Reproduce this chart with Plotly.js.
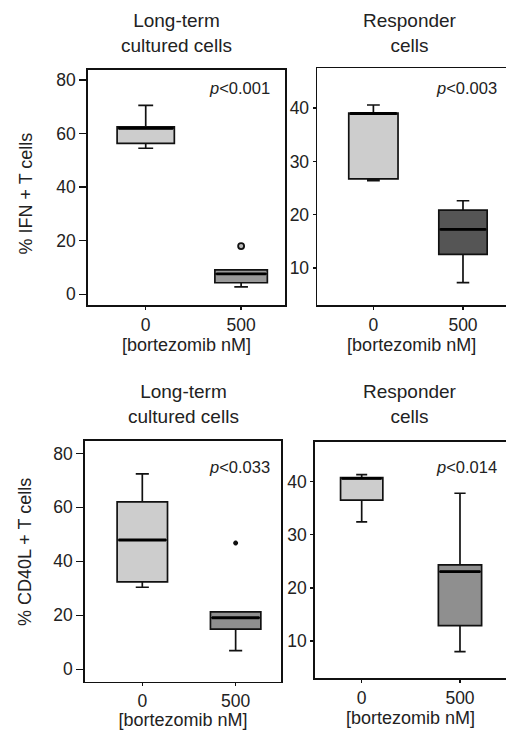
<!DOCTYPE html>
<html>
<head>
<meta charset="utf-8">
<script src="https://cdn.plot.ly/plotly-3.0.1.min.js"></script>
<style>html,body{margin:0;padding:0;background:#fff;}#chart{width:506px;height:730px;}</style>
</head>
<body>
<div id="chart"></div>
<script>
// ---- data ----
var doseLabels = ["0", "500"];
var panelTitles = ["Long-term<br>cultured cells", "Responder<br>cells", "Long-term<br>cultured cells", "Responder<br>cells"];
var pValues = ["<i>p</i><0.001", "<i>p</i><0.003", "<i>p</i><0.033", "<i>p</i><0.014"];
var yTitles = ["% IFN + T cells", "% CD40L + T cells"];
var xTitle = "[bortezomib nM]";

// box statistics per panel: [dose0, dose500]
var ifnLongLower  = [54.5, 2.8];
var ifnLongQ1     = [56.3, 4.3];
var ifnLongMedian = [61.9, 7.6];
var ifnLongQ3     = [62.5, 9.1];
var ifnLongUpper  = [70.5, 9.1];
var ifnLongOutlier = [null, 18];

var ifnRespLower  = [26.4, 7.2];
var ifnRespQ1     = [26.7, 12.5];
var ifnRespMedian = [39.0, 17.2];
var ifnRespQ3     = [39.1, 20.85];
var ifnRespUpper  = [40.6, 22.6];

var cdLongLower  = [30.4, 6.9];
var cdLongQ1     = [32.4, 14.9];
var cdLongMedian = [47.9, 19.1];
var cdLongQ3     = [62.0, 21.3];
var cdLongUpper  = [72.4, 21.3];
var cdLongOutlier = [null, 46.8];

var cdRespLower  = [32.4, 8.0];
var cdRespQ1     = [36.5, 12.9];
var cdRespMedian = [40.6, 23.05];
var cdRespQ3     = [40.75, 24.3];
var cdRespUpper  = [41.3, 37.8];

// ---- styles ----
var FONT = "'Liberation Sans', Arial, sans-serif";
var TXT = "#222222";
var panels = [
  {lower: ifnLongLower, q1: ifnLongQ1, med: ifnLongMedian, q3: ifnLongQ3, upper: ifnLongUpper, out: ifnLongOutlier,
   fills: ["#cdcdcd", "#999999"], widths: [0.6, 0.55], xr: [-0.605, 1.46], yr: [-4, 83.7], ticks: [0, 20, 40, 60, 80],
   dom: [[88, 285], [70, 305]], outSize: 6, outSym: "circle", outFill: "#bbbbbb", mirrorRight: true, standoff: 0},
  {lower: ifnRespLower, q1: ifnRespQ1, med: ifnRespMedian, q3: ifnRespQ3, upper: ifnRespUpper, out: [null, null],
   fills: ["#cdcdcd", "#555555"], widths: [0.55, 0.54], xr: [-0.626, 1.48], yr: [3, 47.5], ticks: [10, 20, 30, 40],
   dom: [[317.3, 506], [68.3, 305]], outSize: 0, outSym: "circle", outFill: "#111", mirrorRight: false, standoff: 0},
  {lower: cdLongLower, q1: cdLongQ1, med: cdLongMedian, q3: cdLongQ3, upper: cdLongUpper, out: cdLongOutlier,
   fills: ["#cdcdcd", "#8f8f8f"], widths: [0.54, 0.54], xr: [-0.614, 1.486], yr: [-4.6, 84.7], ticks: [0, 20, 40, 60, 80],
   dom: [[85, 281], [440.7, 681.7]], outSize: 4, outSym: "asterisk-open", outFill: "#111", mirrorRight: true, standoff: 10},
  {lower: cdRespLower, q1: cdRespQ1, med: cdRespMedian, q3: cdRespQ3, upper: cdRespUpper, out: [null, null],
   fills: ["#cdcdcd", "#8f8f8f"], widths: [0.43, 0.44], xr: [-0.475, 1.468], yr: [2.97, 47.5], ticks: [10, 20, 30, 40],
   dom: [[315, 506], [441.7, 678.3]], outSize: 0, outSym: "circle", outFill: "#111", mirrorRight: false, standoff: 2}
];

var W = 506, H = 730;
var traces = [];
var layout = {
  width: W, height: H, margin: {l: 0, r: 0, t: 0, b: 0},
  paper_bgcolor: "#fff", plot_bgcolor: "#fff", showlegend: false,
  font: {family: FONT, color: TXT, size: 17},
  annotations: [], shapes: []
};

panels.forEach(function (p, i) {
  var n = i + 1;
  var xa = "x" + (n === 1 ? "" : n), ya = "y" + (n === 1 ? "" : n);
  var xk = "xaxis" + (n === 1 ? "" : n), yk = "yaxis" + (n === 1 ? "" : n);
  var pos = doseLabels.map(function (_, k) { return k; });
  for (var k = 0; k < 2; k++) {
    traces.push({
      type: "box", x: [pos[k]], xaxis: xa, yaxis: ya,
      q1: [p.q1[k]], median: [p.med[k]], q3: [p.q3[k]],
      lowerfence: [p.lower[k]], upperfence: [p.upper[k]],
      width: p.widths[k], whiskerwidth: 0.26,
      fillcolor: p.fills[k], line: {color: "#111", width: 1.7},
      boxpoints: false, hoverinfo: "skip"
    });
    // thicker median line drawn from the same data
    traces.push({
      type: "scatter", mode: "lines", xaxis: xa, yaxis: ya,
      x: [pos[k] - p.widths[k] / 2 + 0.015, pos[k] + p.widths[k] / 2 - 0.015],
      y: [p.med[k], p.med[k]],
      line: {color: "#000", width: 2.8}, hoverinfo: "skip"
    });
    if (p.out[k] !== null) {
      traces.push({
        type: "scatter", mode: "markers", xaxis: xa, yaxis: ya,
        x: [pos[k]], y: [p.out[k]],
        marker: {symbol: p.outSym, size: p.outSize, color: p.outFill, line: {width: 1.8, color: "#111"}},
        hoverinfo: "skip"
      });
    }
  }
  layout[xk] = {
    domain: [p.dom[0][0] / W, p.dom[0][1] / W], anchor: ya,
    range: p.xr, tickmode: "array", tickvals: pos, ticktext: doseLabels,
    showgrid: false, zeroline: false, showline: true, linecolor: "#111", linewidth: 1.7,
    mirror: true, ticks: "outside", ticklen: 3, tickcolor: "#111", tickwidth: 1.5,
    tickfont: {size: 17.5, color: TXT, family: FONT},
    title: {text: xTitle, font: {size: 18, color: TXT, family: FONT}, standoff: p.standoff}
  };
  layout[yk] = {
    domain: [1 - p.dom[1][1] / H, 1 - p.dom[1][0] / H], anchor: xa,
    range: p.yr, tickmode: "array", tickvals: p.ticks,
    showgrid: false, zeroline: false, showline: true, linecolor: "#111", linewidth: 1.7,
    mirror: p.mirrorRight, ticks: "outside", ticklen: (i % 2 === 0 ? 7 : 3), tickcolor: "#111", tickwidth: 1.5,
    tickfont: {size: 17.5, color: TXT, family: FONT}
  };
  var cx = (i % 2 === 0) ? [176.7, 183.3][i / 2] : 410;
  var ty = (i < 2) ? 33 : 404;
  layout.annotations.push({
    xref: "paper", yref: "paper", x: cx / W, y: 1 - ty / H, xanchor: "center", yanchor: "middle",
    text: panelTitles[i], showarrow: false, font: {size: 19, color: TXT, family: FONT}
  });
  var px = (i % 2 === 0) ? 272 : 498.5;
  var py = (i < 2) ? 88 : 466.7;
  layout.annotations.push({
    xref: "paper", yref: "paper", x: px / W, y: 1 - py / H, xanchor: "right", yanchor: "middle",
    text: pValues[i], showarrow: false, font: {size: 16.5, color: TXT, family: FONT}
  });
  if (i % 2 === 0) {
    var yc = (i === 0) ? 193.5 : 552;
    layout.annotations.push({
      xref: "paper", yref: "paper", x: 25 / W, y: 1 - yc / H, xanchor: "center", yanchor: "middle",
      text: yTitles[i / 2], textangle: -90, showarrow: false, font: {size: 18, color: TXT, family: FONT}
    });
  }
});

Plotly.newPlot("chart", traces, layout, {staticPlot: true, displayModeBar: false});
</script>
</body>
</html>
